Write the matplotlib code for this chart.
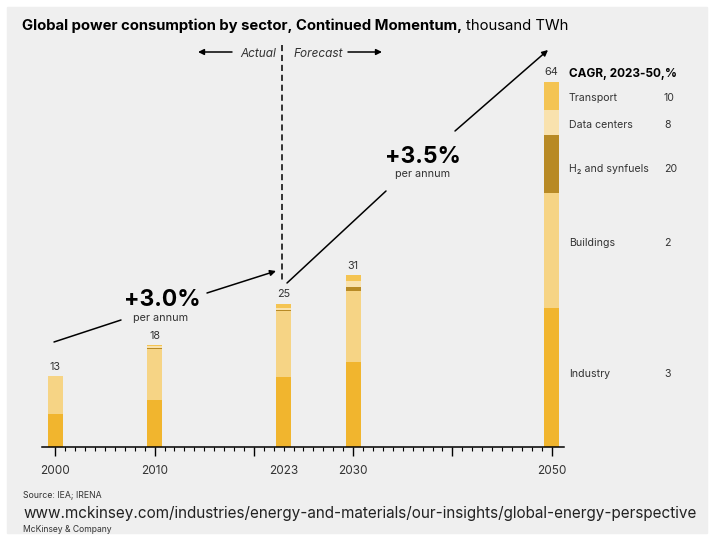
import matplotlib.pyplot as plt
from matplotlib.patches import Rectangle, FancyArrowPatch
from matplotlib.lines import Line2D

# data (thousand TWh)
years = [2000, 2010, 2023, 2030, 2050]
industry = [5.8, 8.2, 12.3, 14.9, 24.3]
buildings = [6.7, 9.0, 11.6, 12.5, 20.2]
h2_synfuels = [0.0, 0.2, 0.2, 0.7, 10.2]
data_centers = [0.0, 0.25, 0.35, 1.05, 4.4]
transport = [0.0, 0.25, 0.7, 1.05, 5.0]
totals = ["13", "18", "25", "31", "64"]
tick_years = [2000, 2010, 2023, 2030, 2050]

sectors = ["Industry", "Buildings", "H₂ and synfuels", "Data centers", "Transport"]
cagr = ["3", "2", "20", "8", "10"]
colors = ["#F1B52E", "#F6D485", "#B88A25", "#F9E2AE", "#F4C453"]

W, H = 714, 535
FONT = ["Inter", "DejaVu Sans"]
plt.rcParams["font.family"] = FONT
TXT = "#333333"
VA = "center_baseline"


def fx(x):
    return x / W


def fy(y):
    return 1 - y / H


fig = plt.figure(figsize=(W / 100, H / 100), dpi=100, facecolor="white")
fig.patches.append(Rectangle((fx(7), fy(533)), 700 / W, 526 / H,
                             transform=fig.transFigure, color="#EFEFEF", zorder=-10))

# axes: baseline at y=447px, 2000 at x=55px, ~9.93 px/year, 5.7 px/unit
ax = fig.add_axes([fx(42), fy(447), 522 / W, 407 / H])
ax.set_facecolor("none")
ax.set_xlim(2000 - 13.3 / 9.93, 2050 + 12.3 / 9.93)
ax.set_ylim(0, 407 / 5.7)

stack = [industry, buildings, h2_synfuels, data_centers, transport]
bottom = [0.0] * len(years)
for vals, c in zip(stack, colors):
    ax.bar(years, vals, bottom=bottom, width=1.5, color=c, linewidth=0)
    bottom = [b + v for b, v in zip(bottom, vals)]

for x, top, lab in zip(years, bottom, totals):
    ax.annotate(lab, (x, top), xytext=(0, 3), textcoords="offset points",
                ha="center", va="bottom", fontsize=7.8, color=TXT)

for s in ["top", "right", "left"]:
    ax.spines[s].set_visible(False)
ax.spines["bottom"].set_linewidth(1.1)
ax.set_yticks([])
ax.set_xticks(list(range(2000, 2051, 10)))
ax.set_xticks([y for y in range(2001, 2050) if y % 10], minor=True)
ax.tick_params(axis="x", which="major", length=6.5, width=1.0, labelbottom=False)
ax.tick_params(axis="x", which="minor", length=3.2, width=0.8)
for y in tick_years:
    ax.annotate(str(y), (y, 0), xytext=(0, -13), textcoords="offset points",
                ha="center", va="top", fontsize=8.5, color=TXT)

# title
renderer = fig.canvas.get_renderer()
t1 = fig.text(fx(22), fy(24), "Global power consumption by sector, Continued Momentum,",
              fontsize=10.7, fontweight="bold", va=VA, ha="left")
bb = t1.get_window_extent(renderer)
fig.text((bb.x1 + 4) / W, fy(24), "thousand TWh", fontsize=10.7, va=VA, ha="left")

# actual / forecast marker
fig.add_artist(Line2D([fx(282), fx(282)], [fy(45), fy(283)], color="black",
                      lw=1.1, ls=(0, (4, 2.5)), transform=fig.transFigure))
fig.text(fx(276), fy(52), "Actual", fontsize=8.5, style="italic", ha="right", va=VA, color=TXT)
fig.text(fx(293), fy(52), "Forecast", fontsize=8.5, style="italic", ha="left", va=VA, color=TXT)


def arrow(x0, y0, x1, y1, head=True):
    fig.add_artist(FancyArrowPatch(
        (fx(x0), fy(y0)), (fx(x1), fy(y1)), transform=fig.transFigure,
        arrowstyle="-|>" if head else "-", mutation_scale=8.5, lw=1.1,
        color="black", shrinkA=0, shrinkB=0))


arrow(232, 52, 198, 52)
arrow(348, 52, 382, 52)

# growth arrows
arrow(54, 342, 121, 320, head=False)
arrow(207, 293, 276, 271)
arrow(287, 283, 386, 191, head=False)
arrow(455, 131, 548, 50)

fig.text(fx(162), fy(298), "+3.0%", fontsize=16.5, fontweight="bold", ha="center", va=VA)
fig.text(fx(161), fy(317), "per annum", fontsize=7.8, ha="center", va=VA, color=TXT)
fig.text(fx(423), fy(155), "+3.5%", fontsize=16.5, fontweight="bold", ha="center", va=VA)
fig.text(fx(423), fy(173), "per annum", fontsize=7.8, ha="center", va=VA, color=TXT)

# legend with CAGR
fig.text(fx(569), fy(73), "CAGR, 2023-50,%", fontsize=8.5, fontweight="bold", ha="left", va=VA)
label_y = [373, 242, 168, 124, 97]
for name, val, y in zip(sectors, cagr, label_y):
    fig.text(fx(569), fy(y), name, fontsize=7.6, ha="left", va=VA, color=TXT)
    fig.text(fx(664), fy(y), val, fontsize=7.6, ha="left", va=VA, color=TXT)

# footer
fig.text(fx(23), fy(494), "Source: IEA; IRENA", fontsize=6.3, ha="left", va=VA, color=TXT)
fig.text(fx(23), fy(512),
         "www.mckinsey.com/industries/energy-and-materials/our-insights/global-energy-perspective",
         fontsize=11, ha="left", va=VA, color="#222222")
fig.text(fx(23), fy(528), "McKinsey & Company", fontsize=6.2, ha="left", va=VA, color=TXT)

fig.savefig("out.png", dpi=100, facecolor="white")
